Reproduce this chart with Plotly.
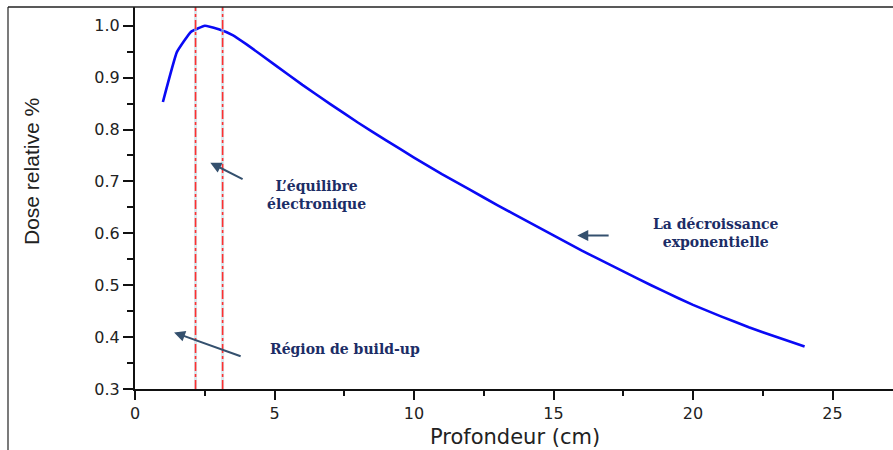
import plotly.graph_objects as go

# Data
depth_cm = [1, 1.5, 2, 2.5, 3, 3.5, 4, 5, 6, 7, 8, 9, 10, 11, 12, 13, 14,
            15, 16, 17, 18, 19, 20, 21, 22, 23, 24]
dose_rel = [0.853, 0.949, 0.988, 1.0, 0.993, 0.982, 0.964, 0.925, 0.886,
            0.849, 0.813, 0.779, 0.746, 0.714, 0.684, 0.654, 0.625, 0.596,
            0.567, 0.540, 0.513, 0.487, 0.462, 0.440, 0.419, 0.400, 0.382]
marker_lines_x = [2.17, 3.14]
x_ticks = [0, 5, 10, 15, 20, 25]
y_ticks = [0.3, 0.4, 0.5, 0.6, 0.7, 0.8, 0.9, 1.0]
y_tick_text = ["0.3", "0.4", "0.5", "0.6", "0.7", "0.8", "0.9", "1.0"]

W, H = 893, 450
ML, MT, MB, MR = 135, 7, 61, 0
PX_PER_X = 27.9
PX_PER_Y = 519.0
plot_w = W - ML - MR
plot_h = H - MT - MB
x_range = [0, plot_w / PX_PER_X]
y_range = [0.3, 0.3 + plot_h / PX_PER_Y]

navy = "#1c2d66"
arrow_col = "#34506e"

fig = go.Figure()
fig.add_trace(go.Scatter(
    x=depth_cm, y=dose_rel, mode="lines", line_shape="spline",
    line=dict(color="#0a0af5", width=2.6, smoothing=0.3),
    showlegend=False, hoverinfo="skip"))

shapes = []
for xv in marker_lines_x:
    shapes.append(dict(type="line", xref="x", yref="paper", x0=xv, x1=xv,
                       y0=0, y1=1, line=dict(color="rgba(185,210,220,0.55)", width=3)))
    shapes.append(dict(type="line", xref="x", yref="paper", x0=xv, x1=xv,
                       y0=0, y1=1, line=dict(color="#ff3030", width=1.6, dash="dashdot")))
# outer frame (top and left edges)
fx0 = (8 - ML) / plot_w
shapes.append(dict(type="line", xref="paper", yref="paper", x0=fx0, x1=1.01,
                   y0=1, y1=1, line=dict(color="#222", width=1.5)))
shapes.append(dict(type="line", xref="paper", yref="paper", x0=fx0, x1=fx0,
                   y0=1, y1=-0.3, line=dict(color="#222", width=1.2)))

annots = []
tfont = dict(family="DejaVu Serif", size=14, color=navy, weight="bold")
annots.append(dict(x=6.50, y=0.674, xref="x", yref="y", showarrow=False,
                   text="L’équilibre<br>électronique", font=tfont, align="center"))
annots.append(dict(x=7.53, y=0.377, xref="x", yref="y", showarrow=False,
                   text="Région de build-up", font=tfont, align="center"))
annots.append(dict(x=20.83, y=0.601, xref="x", yref="y", showarrow=False,
                   text="La décroissance<br>exponentielle", font=tfont, align="center"))
# arrows
for (hx, hy, tx, ty) in [(2.70, 0.736, 3.91, 0.703),
                         (1.40, 0.409, 3.84, 0.362),
                         (15.85, 0.596, 17.03, 0.596)]:
    annots.append(dict(x=hx, y=hy, ax=tx, ay=ty, xref="x", yref="y",
                       axref="x", ayref="y", text="", showarrow=True,
                       arrowhead=2, arrowsize=1.1, arrowwidth=2,
                       arrowcolor=arrow_col))
# axis titles
annots.append(dict(x=(515 - ML) / plot_w, y=-(437 - (H - MB)) / plot_h,
                   xref="paper", yref="paper", showarrow=False,
                   text="Profondeur (cm)",
                   font=dict(family="DejaVu Sans", size=21, color="#222"),
                   yanchor="middle", xanchor="center"))
annots.append(dict(x=(31 - ML) / plot_w, y=1 - (172 - MT) / plot_h,
                   xref="paper", yref="paper", showarrow=False,
                   text="Dose relative %", textangle=-90,
                   font=dict(family="Liberation Sans Narrow, Liberation Sans", size=21, color="#222"),
                   yanchor="middle", xanchor="center"))

fig.update_layout(
    width=W, height=H,
    margin=dict(l=ML, r=MR, t=MT, b=MB, pad=0),
    paper_bgcolor="white", plot_bgcolor="white",
    shapes=shapes, annotations=annots,
    xaxis=dict(range=x_range, tickvals=x_ticks, showgrid=False, zeroline=False,
               showline=True, linecolor="#111", linewidth=2,
               ticks="outside", ticklen=9, tickwidth=2, tickcolor="#111",
               tickfont=dict(family="DejaVu Sans", size=16, color="#222"),
               minor=dict(dtick=2.5, ticks="outside", ticklen=5, tickwidth=2,
                          tickcolor="#111", showgrid=False)),
    yaxis=dict(range=y_range, tickvals=y_ticks, ticktext=y_tick_text,
               showgrid=False, zeroline=False,
               showline=True, linecolor="#111", linewidth=2,
               ticks="outside", ticklen=10, tickwidth=1.5, tickcolor="#111",
               tickfont=dict(family="DejaVu Sans", size=16, color="#222"),
               minor=dict(dtick=0.05, tick0=0.3, ticks="outside", ticklen=6,
                          tickwidth=1.5, tickcolor="#111", showgrid=False)),
)
fig.write_html("out.html")
